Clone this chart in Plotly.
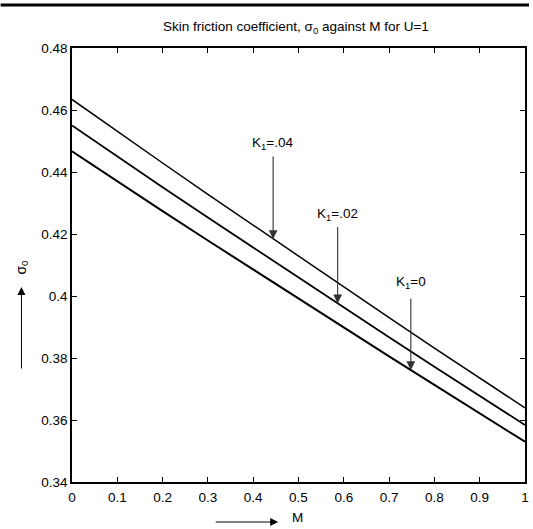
import numpy as np
import plotly.graph_objects as go

M = [0.0, 0.1, 0.2, 0.3, 0.4, 0.5, 0.6, 0.7, 0.8, 0.9, 1.0]
sigma_K0 = [0.4467, 0.4370, 0.4274, 0.4179, 0.4085, 0.3991, 0.3898, 0.3805, 0.3713, 0.3621, 0.3530]
sigma_K002 = [0.4550, 0.4450, 0.4351, 0.4253, 0.4156, 0.4059, 0.3963, 0.3867, 0.3772, 0.3678, 0.3584]
sigma_K004 = [0.4634, 0.4531, 0.4429, 0.4328, 0.4228, 0.4128, 0.4029, 0.3930, 0.3832, 0.3735, 0.3639]

x_ticks = [0, 0.1, 0.2, 0.3, 0.4, 0.5, 0.6, 0.7, 0.8, 0.9, 1]
x_ticklabels = ["0", "0.1", "0.2", "0.3", "0.4", "0.5", "0.6", "0.7", "0.8", "0.9", "1"]
y_ticks = [0.34, 0.36, 0.38, 0.40, 0.42, 0.44, 0.46, 0.48]
y_ticklabels = ["0.34", "0.36", "0.38", "0.4", "0.42", "0.44", "0.46", "0.48"]

FONT = "Liberation Sans, Arial, sans-serif"
FS = 13.5

fig = go.Figure()
for ys, w in [(sigma_K0, 2.0), (sigma_K002, 1.8), (sigma_K004, 1.5)]:
    fig.add_trace(go.Scatter(x=M, y=ys, mode="lines",
                             line=dict(color="black", width=w), showlegend=False,
                             hoverinfo="skip"))

# curve labels with arrows (arrow tips sit on the curves)
labels = [
    ("K<sub>1</sub>=.04", sigma_K004, 0.444, -84, 274, 143),
    ("K<sub>1</sub>=.02", sigma_K002, 0.5864, -78, 340, 214),
    ("K<sub>1</sub>=0", sigma_K0, 0.748, -73, 414, 282),
]
annotations = []
for txt, ys, mt, ay, tx, ty in labels:
    yt = float(np.interp(mt, M, ys))
    annotations.append(dict(x=mt, y=yt, xref="x", yref="y", ax=0, ay=ay,
                            axref="pixel", ayref="pixel", text="", showarrow=True,
                            arrowhead=2, arrowsize=1.6, arrowwidth=1.1,
                            arrowcolor="#333333"))
    annotations.append(dict(x=(tx - 72) / 457, y=(482 - ty) / 434, xref="paper", yref="paper",
                            text=txt, showarrow=False, xanchor="center", yanchor="middle",
                            font=dict(family=FONT, size=FS, color="black")))

# axis labels
annotations.append(dict(x=(299 - 72) / 457, y=(482 - 509) / 434, xref="paper", yref="paper",
                        xanchor="center", yanchor="top", borderpad=0,
                        text="M", showarrow=False, font=dict(family=FONT, size=FS, color="black")))
annotations.append(dict(x=(280 - 72) / 457, y=(482 - 522) / 434, xref="paper", yref="paper",
                        ax=-64, ay=0, text="", showarrow=True, arrowhead=2, arrowsize=1.6,
                        arrowwidth=1, arrowcolor="black"))
annotations.append(dict(x=(10 - 72) / 457, y=(482 - 267) / 434, xref="paper", yref="paper",
                        text="σ<sub>0</sub>", textangle=-90, showarrow=False,
                        font=dict(family=FONT, size=14, color="black")))
annotations.append(dict(x=(21 - 72) / 457, y=(482 - 287) / 434, xref="paper", yref="paper",
                        ax=0, ay=83, text="", showarrow=True, arrowhead=2, arrowsize=1.6,
                        arrowwidth=1, arrowcolor="black"))
# title
annotations.append(dict(x=(162 - 72) / 457, y=(482 - 27) / 434, xref="paper", yref="paper",
                        xanchor="left", yanchor="middle",
                        text="Skin friction coefficient, σ<sub>0</sub> against M for U=1",
                        showarrow=False, font=dict(family=FONT, size=FS, color="black")))

fig.update_layout(
    width=533, height=529,
    margin=dict(l=72, r=4, t=48, b=47),
    paper_bgcolor="white", plot_bgcolor="white",
    font=dict(family=FONT, size=FS, color="black"),
    annotations=annotations,
    shapes=[dict(type="line", xref="paper", yref="paper",
                 x0=-72 / 457, x1=(533 - 72) / 457, y0=(482 - 5) / 434, y1=(482 - 5) / 434,
                 line=dict(color="black", width=3))],
    xaxis=dict(range=[0, 1], tickvals=x_ticks, ticktext=x_ticklabels, ticks="inside",
               ticklen=5, tickwidth=1, tickcolor="black", showline=True, linecolor="black",
               linewidth=1.5, mirror="ticks", showgrid=False, zeroline=False,
               ticklabelstandoff=2,
               tickfont=dict(family=FONT, size=FS, color="black")),
    yaxis=dict(range=[0.34, 0.48], tickvals=y_ticks, ticktext=y_ticklabels, ticks="inside",
               ticklen=5, tickwidth=1, tickcolor="black", showline=True, linecolor="black",
               linewidth=1.5, mirror="ticks", showgrid=False, zeroline=False,
               tickfont=dict(family=FONT, size=FS, color="black")),
)

fig.write_html("out.html")
